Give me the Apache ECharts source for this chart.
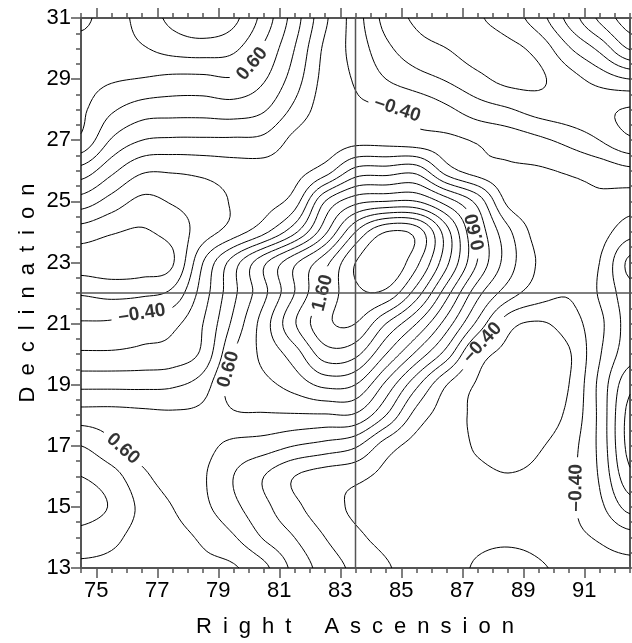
<!DOCTYPE html>
<html><head><meta charset="utf-8">
<script src="https://cdn.jsdelivr.net/npm/echarts@6/dist/echarts.min.js"></script>
<style>html,body{margin:0;padding:0;background:#fff}#c{width:632px;height:643px}</style>
</head><body><div id="c"></div>
<script>
// ---------------- DATA ----------------
const raTicks  = [75, 77, 79, 81, 83, 85, 87, 89, 91];
const decTicks = [13, 15, 17, 19, 21, 23, 25, 27, 29, 31];
const raRange  = [74.5, 92.5];
const decRange = [13, 31];
// value grid: columns at these RA, rows at these Dec
const raGrid  = [74.5,75.5,76.5,77.5,78.5,79.5,80.5,81.5,82.5,83.5,84.5,85.5,86.5,87.5,88.5,89.5,90.5,91.5,92.5];
const decGrid = [31,30,29,28,27,26,25,24,23,22,21,20,19,18,17,16,15,14,13];
const zDec31 = [0.85,0.72,0.88,1.05,1.15,1.05,0.72,0.30,-0.16,-0.50,-0.87,-1.03,-1.08,-1.02,-0.90,-0.69,-0.33,0.04,0.30];
const zDec30 = [0.72,0.70,0.78,0.87,0.90,0.84,0.57,0.20,-0.24,-0.47,-0.75,-0.92,-1.00,-1.08,-1.05,-0.93,-0.62,-0.35,0.02];
const zDec29 = [0.66,0.62,0.59,0.55,0.55,0.58,0.42,0.10,-0.27,-0.42,-0.60,-0.72,-0.82,-0.95,-1.05,-1.03,-0.88,-0.72,-0.60];
const zDec28 = [0.63,0.43,0.30,0.28,0.28,0.30,0.22,-0.05,-0.30,-0.36,-0.38,-0.44,-0.56,-0.70,-0.78,-0.88,-0.92,-0.95,-1.02];
const zDec27 = [0.56,0.18,0.00,-0.03,-0.03,-0.03,-0.05,-0.25,-0.32,-0.27,-0.28,-0.32,-0.35,-0.42,-0.48,-0.56,-0.66,-0.80,-0.97];
const zDec26 = [0.12,-0.15,-0.37,-0.38,-0.35,-0.30,-0.28,-0.27,-0.10,0.27,0.30,0.33,-0.10,-0.30,-0.37,-0.38,-0.42,-0.47,-0.55];
const zDec25 = [-0.29,-0.48,-0.65,-0.58,-0.50,-0.38,-0.28,-0.10,0.60,0.93,1.00,1.00,0.70,0.33,-0.25,-0.33,-0.35,-0.37,-0.30];
const zDec24 = [-0.69,-0.78,-0.82,-0.72,-0.50,-0.30,-0.05,0.35,0.95,1.60,2.00,1.92,1.27,0.56,0.05,-0.28,-0.32,-0.28,-0.08];
const zDec23 = [-0.88,-0.92,-0.90,-0.82,-0.20,0.30,0.76,1.16,1.53,2.00,2.18,1.85,1.24,0.59,0.10,-0.22,-0.30,-0.20,0.25];
const zDec22 = [-0.62,-0.66,-0.64,-0.55,-0.10,0.35,0.75,1.20,1.63,1.95,1.95,1.50,0.87,0.27,-0.10,-0.30,-0.38,-0.18,0.12];
const zDec21 = [-0.38,-0.37,-0.30,-0.25,0.00,0.45,0.90,1.38,1.75,1.80,1.40,1.00,0.50,-0.05,-0.52,-0.62,-0.50,-0.25,0.08];
const zDec20 = [-0.17,-0.17,-0.15,-0.12,0.05,0.60,0.85,1.10,1.50,1.45,1.00,0.55,0.10,-0.48,-0.66,-0.72,-0.62,-0.22,0.12];
const zDec19 = [0.15,0.15,0.15,0.17,0.30,0.70,0.75,0.88,1.05,1.00,0.55,0.05,-0.40,-0.62,-0.72,-0.72,-0.60,-0.15,0.35];
const zDec18 = [0.49,0.48,0.45,0.43,0.45,0.57,0.58,0.58,0.58,0.57,0.20,-0.28,-0.50,-0.64,-0.72,-0.70,-0.55,-0.15,0.47];
const zDec17 = [0.80,0.64,0.50,0.45,0.45,0.35,0.30,0.20,0.13,0.03,-0.30,-0.47,-0.52,-0.62,-0.68,-0.62,-0.48,-0.15,0.47];
const zDec16 = [1.00,0.88,0.65,0.50,0.42,0.20,0.00,-0.20,-0.30,-0.35,-0.45,-0.50,-0.55,-0.56,-0.59,-0.55,-0.45,-0.18,0.35];
const zDec15 = [1.08,0.98,0.75,0.60,0.45,0.25,0.05,-0.15,-0.32,-0.43,-0.47,-0.50,-0.52,-0.52,-0.50,-0.47,-0.43,-0.25,0.08];
const zDec14 = [0.93,0.85,0.72,0.66,0.57,0.42,0.18,0.00,-0.20,-0.36,-0.45,-0.50,-0.52,-0.56,-0.57,-0.54,-0.45,-0.38,-0.28];
const zDec13 = [0.76,0.75,0.70,0.68,0.64,0.62,0.45,0.14,-0.08,-0.25,-0.38,-0.47,-0.53,-0.62,-0.66,-0.62,-0.55,-0.47,-0.45];
const contourLevels = [-1.2,-1.0,-0.8,-0.6,-0.4,-0.2,0.0,0.2,0.4,0.6,0.8,1.0,1.2,1.4,1.6,1.8,2.0,2.2];
// crosshair
const crossRA = 83.5;
const crossDec = 22.0;
// contour labels: level, text and approximate place
const labelLevel = [0.6, -0.4, 0.6, -0.4, 1.6, 0.6, 0.6, -0.4, -0.4];
const labelText  = ['0.60', '\u20130.40', '0.60', '\u20130.40', '1.60', '0.60', '0.60', '\u20130.40', '\u20130.40'];
const labelRA    = [80.05, 84.86, 87.42, 76.39, 82.3, 79.12, 75.9, 87.59, 90.65];
const labelDec   = [29.47, 28.11, 23.97, 21.57, 22.0, 19.55, 16.93, 20.48, 15.68];

// ---------------- FIELD + CONTOURS ----------------
const zRows = [zDec31,zDec30,zDec29,zDec28,zDec27,zDec26,zDec25,zDec24,zDec23,zDec22,zDec21,zDec20,zDec19,zDec18,zDec17,zDec16,zDec15,zDec14,zDec13];
const NX = raGrid.length, NY = decGrid.length;
const G = [];
for (let j = 0; j < NY; j++) G.push(zRows[NY - 1 - j].slice());
const dRA = raGrid[1] - raGrid[0], dDec = 1;
const dec0 = decGrid[NY - 1];
function gv(i, j) { i = Math.max(0, Math.min(NX - 1, i)); j = Math.max(0, Math.min(NY - 1, j)); return G[j][i]; }
function cr(p0, p1, p2, p3, t) {
  return 0.5 * (2 * p1 + (-p0 + p2) * t + (2 * p0 - 5 * p1 + 4 * p2 - p3) * t * t + (-p0 + 3 * p1 - 3 * p2 + p3) * t * t * t);
}
function sample(x, y) {
  const fx = (x - raGrid[0]) / dRA, fy = (y - dec0) / dDec;
  let i = Math.floor(fx), j = Math.floor(fy);
  if (i >= NX - 1) i = NX - 2; if (j >= NY - 1) j = NY - 2;
  const tx = fx - i, ty = fy - j;
  const col = [];
  for (let k = -1; k <= 2; k++) col.push(cr(gv(i - 1, j + k), gv(i, j + k), gv(i + 1, j + k), gv(i + 2, j + k), tx));
  return cr(col[0], col[1], col[2], col[3], ty);
}
const SUB = 8;
const FX = (NX - 1) * SUB + 1, FY = (NY - 1) * SUB + 1;
const hx = dRA / SUB, hy = dDec / SUB;
const F = [];
for (let j = 0; j < FY; j++) {
  const row = [];
  for (let i = 0; i < FX; i++) row.push(sample(raGrid[0] + i * hx, dec0 + j * hy));
  F.push(row);
}
function contour(L) {
  const pts = {}, adj = {}, segs = [];
  function addPt(key, x, y) { if (!pts[key]) pts[key] = [x, y]; }
  function edge(e, i, j, v0, v1, v2, v3) {
    const x = raGrid[0] + i * hx, y = dec0 + j * hy;
    let key, t;
    if (e === 0) { key = 'h' + i + ',' + j; t = (L - v0) / (v1 - v0); addPt(key, x + t * hx, y); }
    else if (e === 1) { key = 'v' + (i + 1) + ',' + j; t = (L - v1) / (v2 - v1); addPt(key, x + hx, y + t * hy); }
    else if (e === 2) { key = 'h' + i + ',' + (j + 1); t = (L - v3) / (v2 - v3); addPt(key, x + t * hx, y + hy); }
    else { key = 'v' + i + ',' + j; t = (L - v0) / (v3 - v0); addPt(key, x, y + t * hy); }
    return key;
  }
  function seg(a, b) { const s = segs.length; segs.push([a, b]); (adj[a] = adj[a] || []).push(s); (adj[b] = adj[b] || []).push(s); }
  for (let j = 0; j < FY - 1; j++) for (let i = 0; i < FX - 1; i++) {
    const v0 = F[j][i], v1 = F[j][i + 1], v2 = F[j + 1][i + 1], v3 = F[j + 1][i];
    const c = (v0 > L ? 1 : 0) | (v1 > L ? 2 : 0) | (v2 > L ? 4 : 0) | (v3 > L ? 8 : 0);
    if (c === 0 || c === 15) continue;
    const E = (e) => edge(e, i, j, v0, v1, v2, v3);
    const center = (v0 + v1 + v2 + v3) / 4 > L;
    switch (c) {
      case 1: case 14: seg(E(3), E(0)); break;
      case 2: case 13: seg(E(0), E(1)); break;
      case 3: case 12: seg(E(3), E(1)); break;
      case 4: case 11: seg(E(1), E(2)); break;
      case 6: case 9: seg(E(0), E(2)); break;
      case 7: case 8: seg(E(3), E(2)); break;
      case 5: if (center) { seg(E(0), E(1)); seg(E(2), E(3)); } else { seg(E(3), E(0)); seg(E(1), E(2)); } break;
      case 10: if (center) { seg(E(3), E(0)); seg(E(1), E(2)); } else { seg(E(0), E(1)); seg(E(2), E(3)); } break;
    }
  }
  const used = new Array(segs.length).fill(false);
  const lines = [];
  function walk(startKey) {
    const line = [pts[startKey]];
    let k = startKey;
    while (true) {
      const nxt = (adj[k] || []).find(s => !used[s]);
      if (nxt === undefined) break;
      used[nxt] = true;
      k = segs[nxt][0] === k ? segs[nxt][1] : segs[nxt][0];
      line.push(pts[k]);
    }
    return line;
  }
  Object.keys(adj).forEach(k => { if (adj[k].length === 1 && adj[k].some(s => !used[s])) lines.push(walk(k)); });
  segs.forEach((s, idx) => { if (!used[idx]) lines.push(walk(s[0])); });
  return lines.filter(l => l.length > 1);
}
const PXX = 549 / (raRange[1] - raRange[0]), PXY = 550 / (decRange[1] - decRange[0]);
let allLines = [];
contourLevels.forEach(L => contour(L).forEach(p => allLines.push({ level: L, pts: p })));

// label placement: snap to nearest contour of that level, rotate along it, cut a gap
const FS = 19;
const labelItems = [];
const gaps = [];
function textWidth(t) { let w = 0; for (const ch of t) w += (ch === '.' ? 0.278 : 0.556); return w * FS; }
labelLevel.forEach((lv, k) => {
  let best = null;
  allLines.forEach((ln, li) => {
    if (Math.abs(ln.level - lv) > 1e-6) return;
    ln.pts.forEach((p, pi) => {
      const d = Math.hypot((p[0] - labelRA[k]) * PXX, (p[1] - labelDec[k]) * PXY);
      if (!best || d < best.d) best = { d, li, pi };
    });
  });
  if (!best) return;
  const P = allLines[best.li].pts;
  const a = P[Math.max(0, best.pi - 5)], b = P[Math.min(P.length - 1, best.pi + 5)];
  let ang = Math.atan2((b[1] - a[1]) * PXY, (b[0] - a[0]) * PXX) * 180 / Math.PI;
  // keep text reading upward along steep lines
  while (ang > 120) ang -= 180;
  while (ang <= -60) ang += 180;
  const c = P[best.pi];
  labelItems.push({ value: [c[0], c[1]], label: { show: true, formatter: labelText[k], rotate: ang } });
  gaps.push({ li: best.li, x: c[0], y: c[1], r: textWidth(labelText[k]) / 2 + 6 });
});
const pieces = [];
allLines.forEach((ln, li) => {
  const gs = gaps.filter(g => g.li === li);
  let cur = [];
  ln.pts.forEach(p => {
    const inGap = gs.some(g => Math.hypot((p[0] - g.x) * PXX, (p[1] - g.y) * PXY) < g.r);
    if (inGap) { if (cur.length > 1) pieces.push(cur); cur = []; }
    else cur.push(p);
  });
  if (cur.length > 1) pieces.push(cur);
});

// ---------------- CHART ----------------
const axisColor = '#555555';
const FONT = '"Liberation Sans", Arial, Helvetica, sans-serif';
const raMinor = [], decMinor = [];
for (let v = raRange[0]; v <= raRange[1] + 1e-9; v += 0.5) raMinor.push(+v.toFixed(2));
for (let v = decRange[0]; v <= decRange[1] + 1e-9; v += 0.5) decMinor.push(+v.toFixed(2));
function xAx(pos, major, labels) {
  return {
    type: 'value', position: pos, min: raRange[0], max: raRange[1],
    axisLine: { show: major, onZero: false, lineStyle: { color: axisColor, width: 2 } },
    axisTick: { show: true, customValues: major ? raTicks : raMinor, length: major ? 10 : 5, lineStyle: { color: axisColor, width: 1.5 } },
    axisLabel: { show: labels, customValues: raTicks, fontSize: 22, color: '#000', margin: 12, fontFamily: FONT },
    splitLine: { show: false }
  };
}
function yAx(pos, major, labels) {
  return {
    type: 'value', position: pos, min: decRange[0], max: decRange[1],
    axisLine: { show: major, onZero: false, lineStyle: { color: axisColor, width: 2 } },
    axisTick: { show: true, customValues: major ? decTicks : decMinor, length: major ? 10 : 5, lineStyle: { color: axisColor, width: 1.5 } },
    axisLabel: { show: labels, customValues: decTicks, fontSize: 22, color: '#000', margin: 10, fontFamily: FONT },
    splitLine: { show: false }
  };
}
const sp = '\u2002';
const xTitle = 'Right Ascension'.split(' ').map(w => w.split('').join(sp)).join(sp + sp + sp);
const yTitle = 'Declination'.split('').join(sp);
const chart = echarts.init(document.getElementById('c'), null, { renderer: 'canvas' });
chart.setOption({
  animation: false,
  backgroundColor: '#fff',
  grid: { left: 81, top: 18, width: 549, height: 550 },
  xAxis: [xAx('bottom', true, true), xAx('bottom', false, false), xAx('top', true, false), xAx('top', false, false)],
  yAxis: [yAx('left', true, true), yAx('left', false, false), yAx('right', true, false), yAx('right', false, false)],
  graphic: [
    { type: 'text', x: 355, y: 627, style: { text: xTitle, font: '22px ' + FONT, fill: '#000', textAlign: 'center', textVerticalAlign: 'middle' } },
    { type: 'text', x: 28, y: 293, rotation: Math.PI / 2, style: { text: yTitle, font: '22px ' + FONT, fill: '#000', textAlign: 'center', textVerticalAlign: 'middle' } }
  ],
  series: [
    { type: 'lines', coordinateSystem: 'cartesian2d', polyline: true, silent: true,
      lineStyle: { color: '#000', width: 1, opacity: 1 },
      data: pieces.map(p => ({ coords: p })) },
    { type: 'line', silent: true, symbol: 'none', lineStyle: { color: axisColor, width: 1.5 },
      data: [[crossRA, decRange[0]], [crossRA, decRange[1]]] },
    { type: 'line', silent: true, symbol: 'none', lineStyle: { color: axisColor, width: 1.5 },
      data: [[raRange[0], crossDec], [raRange[1], crossDec]] },
    { type: 'scatter', silent: true, symbolSize: 0,
      label: { show: true, position: 'inside', color: '#000', fontSize: FS, fontWeight: 'bold', fontFamily: FONT },
      data: labelItems }
  ]
});
</script>
</body></html>
